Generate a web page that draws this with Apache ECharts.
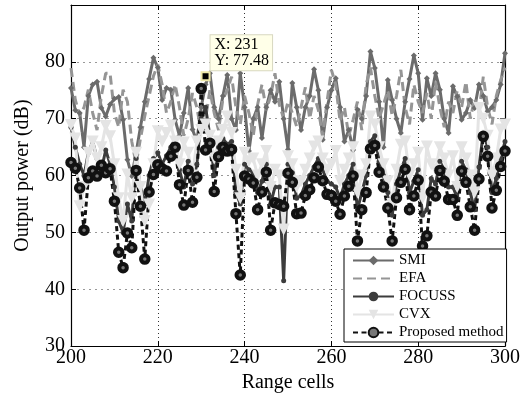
<!DOCTYPE html>
<html>
<head>
<meta charset="utf-8">
<script src="https://cdn.jsdelivr.net/npm/echarts@6/dist/echarts.min.js"></script>
<style>
html,body{margin:0;padding:0;background:#fff;}
#chart{width:527px;height:398px;}
</style>
</head>
<body>
<div id="chart"></div>
<script>
// Range cells 200..300 (one value per cell)
var firstCell = 200;
var lastCell = 300;
var cells = [];
for (var c = firstCell; c <= lastCell; c++) cells.push(c);

var xTicks = [200, 220, 240, 260, 280, 300];
var yTicks = [30, 40, 50, 60, 70, 80];

var smi = [75.4,71.5,71.0,65.0,74.0,76.0,76.5,71.9,70.4,72.5,
73.5,73.8,69.8,62.8,59.9,64.0,68.5,73.0,77.0,80.7,
79.0,73.3,75.4,75.1,69.8,67.0,71.0,75.4,68.1,66.0,
72.0,76.0,78.0,72.0,70.0,74.0,77.7,70.0,68.0,78.0,
72.0,64.3,70.0,72.0,66.6,72.0,75.0,73.0,76.5,70.0,
64.6,76.3,72.0,68.0,72.0,74.0,78.7,75.0,66.3,72.0,
75.0,77.1,72.0,66.0,68.0,64.5,71.6,70.0,74.0,81.8,
78.9,73.0,65.0,76.8,73.3,70.0,67.5,73.0,77.0,81.1,
78.0,69.8,77.1,74.0,78.0,75.1,70.0,67.5,75.7,73.9,
69.8,71.0,73.3,71.9,76.0,74.0,71.3,72.0,73.3,76.0,81.5];

var efa = [78.9,73.3,70.5,72.0,75.1,71.0,68.0,74.0,78.0,78.0,
71.0,68.5,75.1,73.0,66.0,62.0,66.5,70.5,74.0,77.5,
79.5,76.0,71.0,73.0,76.0,72.0,67.0,70.0,74.5,72.0,
67.5,70.0,75.0,71.0,68.0,73.5,75.0,77.4,72.0,69.0,
74.0,71.0,67.0,72.5,76.0,71.5,74.0,78.0,72.5,70.0,
73.0,71.0,68.6,72.0,75.5,70.0,74.0,71.5,67.0,73.0,
78.6,76.0,69.5,72.0,67.0,69.8,73.0,68.0,76.0,79.0,
74.0,70.0,72.5,75.0,70.5,74.0,78.6,72.0,69.0,76.0,
73.0,71.0,74.5,70.0,76.5,72.0,68.5,73.0,71.0,75.0,
72.0,76.5,70.0,73.5,71.0,77.4,72.0,69.0,74.0,76.8,79.0];

var focuss = [68.5,65,62,60,64,66,63,61,64.5,62,
58,52,50,55,52,63,58,55,60,63,
64,62,63.5,65,66.5,61,58,62.5,58.5,62,
70,72,67,60,65,66.5,65.5,66,57,55,
62,61,60.5,57,59,62,55,58,58,41.5,
62,60.5,56,56.5,58.5,60,61.5,63,61,59,
58.5,58,56,58.5,60,62,54,57,60,66,
67,62.5,60,57,53,58.5,61,63,57,59,
61,53,54,59.5,58.5,62.5,61,58,58,56,
62.5,61,57,54,61.5,67.5,65,57,59.5,63,66];

var cvx = [68.9,66.5,54.6,58,64.0,66,63,65,68.7,66.9,
62,56,52,60.2,56,64,58,52,54.9,62,
67.8,66,67.5,68.8,66,62,65.8,64,60,66,
68,69,67,63,66,68,70.4,67.5,61,56,
64,62.5,63,60,62,64.3,58,61,60,50.5,
63.4,62,58,59,61,63,65.1,66,63,61,
62,64.3,59,61,63,65,57,60,62,70.4,
69,65,62,59,55,61,65.4,66,60,62,
64,56,65.1,62,61,65,63,60,63.4,58,
65,63,60,57,71.9,70,67,60,63,68.1,69];

var proposed = [62.3,61.3,57.8,50.4,59.6,60.8,59.9,61.8,60.5,61.2,
55.5,46.5,43.8,49.9,47.3,60.9,54.6,45.3,57.1,60.2,
61.9,61.2,60.8,63.4,65.0,58.4,54.8,60.9,55.3,59.7,
75.3,64.5,65.7,57.2,63.3,65.0,64.3,64.6,53.3,42.5,
59.9,59.4,58.7,54.0,57.1,60.6,50.4,55.2,54.9,54.6,
60.4,58.8,53.3,53.4,56.5,57.5,59.6,61.5,59.1,56.7,
56.5,55.5,53.2,56.4,58.1,59.9,48.5,54.0,57.0,64.7,
65.3,60.6,58.0,54.3,48.5,56.1,58.8,61.1,54.0,56.4,
59.2,47.6,49.4,57.1,56.4,60.9,59.0,55.8,55.8,53.0,
60.8,58.8,54.5,50.4,59.4,66.9,63.4,54.3,57.4,61.6,64.3];

var tipX = 231;
var tipY = 77.48;

function pairs(vals) {
  return cells.map(function (x, i) { return [x, vals[i]]; });
}

var FONT = 'Liberation Serif';

var chart = echarts.init(document.getElementById('chart'));
chart.setOption({
  animation: false,
  backgroundColor: '#fff',
  textStyle: { fontFamily: FONT },
  grid: { left: 71, right: 22, top: 5, bottom: 51 },
  xAxis: [{
    type: 'value', min: 200, max: 300, interval: 20,
    name: 'Range cells', nameLocation: 'middle', nameGap: 20,
    nameTextStyle: { fontFamily: FONT, fontSize: 20, color: '#000' },
    axisLine: { onZero: false, lineStyle: { color: '#000', width: 1.2 } },
    axisTick: { inside: true, length: 5, lineStyle: { color: '#000' } },
    axisLabel: { margin: 2, fontFamily: FONT, fontSize: 20, color: '#000' },
    splitLine: { show: true, lineStyle: { color: '#333', type: [1, 3], width: 1 } }
  }, {
    type: 'value', min: 200, max: 300, interval: 20, position: 'top',
    axisLine: { onZero: false, lineStyle: { color: '#000', width: 1.2 } },
    axisTick: { inside: true, length: 5, lineStyle: { color: '#000' } },
    axisLabel: { show: false }, splitLine: { show: false }
  }],
  yAxis: [{
    type: 'value', min: 30, max: 90, interval: 10,
    name: 'Output power (dB)', nameLocation: 'middle', nameGap: 38,
    nameTextStyle: { fontFamily: FONT, fontSize: 20, color: '#000' },
    axisLine: { show: true, onZero: false, lineStyle: { color: '#000', width: 1.2 } },
    axisTick: { show: true, inside: true, length: 5, lineStyle: { color: '#000' } },
    axisLabel: { margin: 6, fontFamily: FONT, fontSize: 20, color: '#000',
      formatter: function (v) { return v === 90 ? '' : String(v); } },
    splitLine: { show: true, lineStyle: { color: '#999', type: [2, 4], width: 1 } }
  }, {
    type: 'value', min: 30, max: 90, interval: 10, position: 'right',
    axisLine: { show: true, onZero: false, lineStyle: { color: '#000', width: 1.2 } },
    axisTick: { show: true, inside: true, length: 5, lineStyle: { color: '#000' } },
    axisLabel: { show: false }, splitLine: { show: false }
  }],
  legend: {
    orient: 'vertical', left: 344, top: 249,
    padding: [4, 3, 2, 8], itemWidth: 41, itemHeight: 12, itemGap: 3,
    backgroundColor: '#fff', borderColor: '#000', borderWidth: 1, borderRadius: 0,
    textStyle: { fontFamily: FONT, fontSize: 15, color: '#000' },
    data: [
      { name: 'SMI' },
      { name: 'EFA', itemStyle: { opacity: 0 } },
      { name: 'FOCUSS' },
      { name: 'CVX' },
      { name: 'Proposed method' }
    ]
  },
  series: [{
    name: 'SMI', type: 'line', data: pairs(smi), showAllSymbol: true,
    symbol: 'diamond', symbolSize: 6,
    lineStyle: { color: '#6b6b6b', width: 3 },
    itemStyle: { color: '#6b6b6b' }
  }, {
    name: 'EFA', type: 'line', data: pairs(efa), symbol: 'none',
    lineStyle: { color: '#959595', width: 3, type: [9, 5] },
    itemStyle: { color: '#959595' }
  }, {
    name: 'FOCUSS', type: 'line', data: pairs(focuss), showAllSymbol: true,
    symbol: 'circle', symbolSize: 5,
    lineStyle: { color: '#3c3c3c', width: 3 },
    itemStyle: { color: '#3c3c3c' }
  }, {
    name: 'CVX', type: 'line', data: pairs(cvx), showAllSymbol: true,
    symbol: 'triangle', symbolRotate: 180, symbolSize: 12,
    lineStyle: { color: '#e4e4e4', width: 3 },
    itemStyle: { color: '#e4e4e4' }
  }, {
    name: 'Proposed method', type: 'line', data: pairs(proposed), showAllSymbol: true,
    symbol: 'circle', symbolSize: 7.5,
    lineStyle: { color: '#111', width: 3, type: [5, 3.5] },
    itemStyle: { color: '#777', borderColor: '#111', borderWidth: 4 },
    markPoint: {
      symbol: 'rect', symbolSize: 8,
      itemStyle: { color: '#000', borderColor: '#eee8a8', borderWidth: 2 },
      data: [{ coord: [tipX, tipY], value: tipY }],
      label: {
        show: true, position: [10, -36], align: 'left', verticalAlign: 'top',
        formatter: function () { return 'X: ' + tipX + '\nY: ' + tipY; },
        fontFamily: FONT, fontSize: 16, lineHeight: 16, color: '#000',
        backgroundColor: '#ffffe8', borderColor: '#d8d8c0', borderWidth: 1,
        padding: [2, 3, 1, 4]
      }
    }
  }]
});
</script>
</body>
</html>
